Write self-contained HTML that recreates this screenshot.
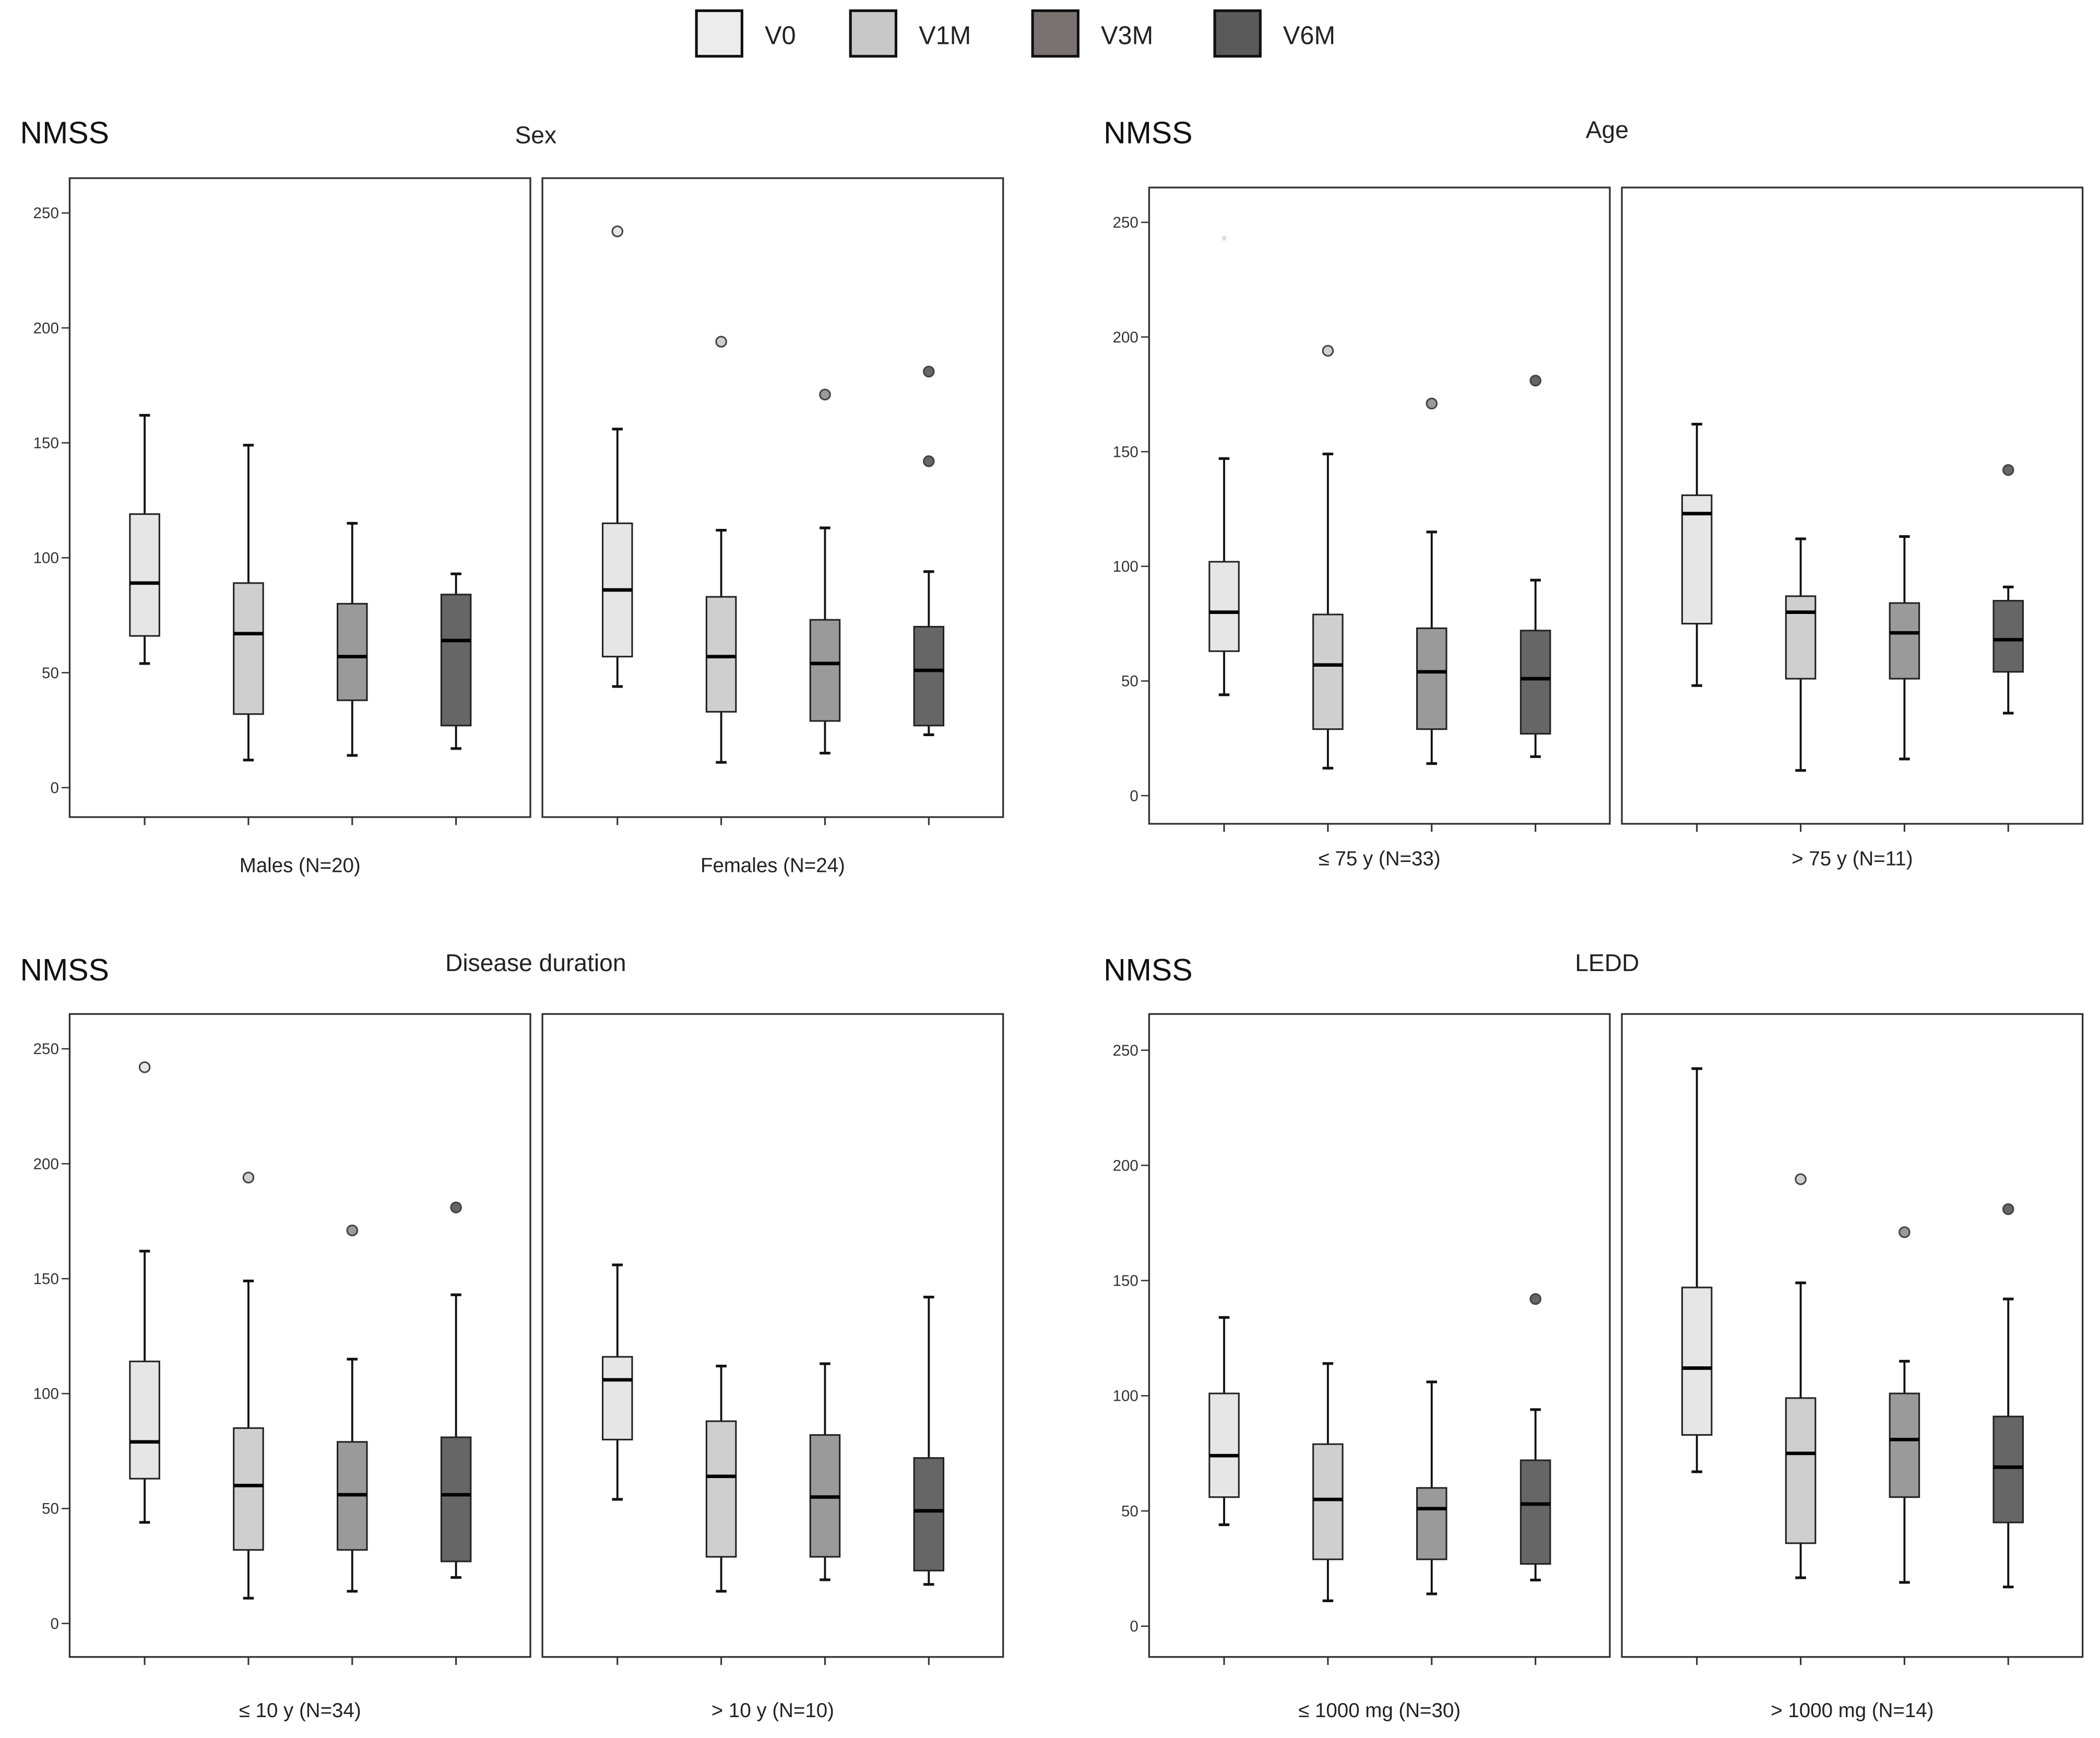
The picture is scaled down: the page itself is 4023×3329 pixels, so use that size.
<!DOCTYPE html>
<html><head><meta charset="utf-8"><style>
html,body{margin:0;padding:0;background:#fff;}
svg{display:block;font-family:"Liberation Sans",sans-serif;}
</style></head><body>
<svg id="chart" width="4023" height="3329" viewBox="0 0 1568 1297.5" xmlns="http://www.w3.org/2000/svg">
<rect x="0" y="0" width="1568" height="1297.5" fill="#fff"/>
<g id="legend"></g>
<g id="panels"></g>
</svg>
<script>
const series = ["V0","V1M","V3M","V6M"];
const fills = ["#e6e6e6","#cfcfcf","#9a9a9a","#666666"];
const legendFills = ["#ececec","#c8c8c8","#7a7270","#5a5a5a"];
const yTicks = [0,50,100,150,200,250];
// each box: [low whisker, q1, median, q3, high whisker]
const sexMales = [[54,66,89,119,162],[12,32,67,89,149],[14,38,57,80,115],[17,27,64,84,93]];
const sexMalesOut = [[],[],[],[]];
const sexFemales = [[44,57,86,115,156],[11,33,57,83,112],[15,29,54,73,113],[23,27,51,70,94]];
const sexFemalesOut = [[242],[194],[171],[181,142]];
const ageLow = [[44,63,80,102,147],[12,29,57,79,149],[14,29,54,73,115],[17,27,51,72,94]];
const ageLowOut = [[],[194],[171],[181]];
const ageLowStar = [242];
const ageHigh = [[48,75,123,131,162],[11,51,80,87,112],[16,51,71,84,113],[36,54,68,85,91]];
const ageHighOut = [[],[],[],[142]];
const durLow = [[44,63,79,114,162],[11,32,60,85,149],[14,32,56,79,115],[20,27,56,81,143]];
const durLowOut = [[242],[194],[171],[181]];
const durHigh = [[54,80,106,116,156],[14,29,64,88,112],[19,29,55,82,113],[17,23,49,72,142]];
const durHighOut = [[],[],[],[]];
const leddLow = [[44,56,74,101,134],[11,29,55,79,114],[14,29,51,60,106],[20,27,53,72,94]];
const leddLowOut = [[],[],[],[142]];
const leddHigh = [[67,83,112,147,242],[21,36,75,99,149],[19,56,81,101,115],[17,45,69,91,142]];
const leddHighOut = [[],[194],[171],[181]];

const NS="http://www.w3.org/2000/svg";
function mk(tag, attrs, parent){const e=document.createElementNS(NS,tag);for(const k in attrs)e.setAttribute(k,attrs[k]);parent.appendChild(e);return e;}

// legend
const lg=document.getElementById('legend');
const lgX=[520,635,771,907];
series.forEach((s,i)=>{
  const r=mk('rect',{x:lgX[i],y:8,width:34,height:34,fill:legendFills[i],stroke:'#111','stroke-width':2},lg);
  
  
  const t=mk('text',{x:lgX[i]+51,y:33,'font-size':19,fill:'#222'},lg);
  t.textContent=s;
  
  
});

const panels=[
 {name:'sex',title:'Sex',tx:400,ty:107,nx:15,ny:107,x0:52,top:133,bot:610,y0:588,y250:159,catY:651,
  subs:[{lab:'Males (N=20)',d:sexMales,o:sexMalesOut},{lab:'Females (N=24)',d:sexFemales,o:sexFemalesOut}]},
 {name:'age',title:'Age',tx:1200,ty:103,nx:824,ny:107,x0:858,top:140,bot:615,y0:594,y250:166,catY:646,
  subs:[{lab:'≤ 75 y (N=33)',d:ageLow,o:ageLowOut,star:ageLowStar},{lab:'> 75 y (N=11)',d:ageHigh,o:ageHighOut}]},
 {name:'disease-duration',title:'Disease duration',tx:400,ty:725,nx:15,ny:732,x0:52,top:757,bot:1237,y0:1212,y250:783,catY:1282,
  subs:[{lab:'≤ 10 y (N=34)',d:durLow,o:durLowOut},{lab:'> 10 y (N=10)',d:durHigh,o:durHighOut}]},
 {name:'ledd',title:'LEDD',tx:1200,ty:725,nx:824,ny:732,x0:858,top:757,bot:1237,y0:1214,y250:784,catY:1282,
  subs:[{lab:'≤ 1000 mg (N=30)',d:leddLow,o:leddLowOut},{lab:'> 1000 mg (N=14)',d:leddHigh,o:leddHighOut}]}
];
const root=document.getElementById('panels');
panels.forEach(p=>{
  const g=mk('g',{},root);
  
  
  const y=v=>p.y0+(p.y250-p.y0)*v/250;
  const n=mk('text',{x:p.nx,y:p.ny,'font-size':23,fill:'#111'},g); n.textContent='NMSS';
  
  
  const t=mk('text',{x:p.tx,y:p.ty,'font-size':18,fill:'#222','text-anchor':'middle'},g); t.textContent=p.title;
  
  
  yTicks.forEach(v=>{
    mk('line',{x1:p.x0-6,x2:p.x0,y1:y(v),y2:y(v),stroke:'#333','stroke-width':1},g);
    const tl=mk('text',{x:p.x0-8,y:y(v)+4,'font-size':11.5,fill:'#333','text-anchor':'end'},g); tl.textContent=v;
    
    
  });
  p.subs.forEach((s,si)=>{
    const left=p.x0+si*353, w=344;
    const sg=mk('g',{},g);
    
    
    mk('rect',{x:left,y:p.top,width:w,height:p.bot-p.top,fill:'none',stroke:'#333','stroke-width':1.3},sg);
    const cx=i=>left+56+i*77.5;
    s.d.forEach((b,i)=>{
      const x=cx(i);
      mk('line',{x1:x,x2:x,y1:p.bot,y2:p.bot+6,stroke:'#333','stroke-width':1.2},sg);
      mk('line',{x1:x,x2:x,y1:y(b[0]),y2:y(b[4]),stroke:'#111','stroke-width':1.5},sg);
      mk('line',{x1:x-4,x2:x+4,y1:y(b[0]),y2:y(b[0]),stroke:'#111','stroke-width':2},sg);
      mk('line',{x1:x-4,x2:x+4,y1:y(b[4]),y2:y(b[4]),stroke:'#111','stroke-width':2},sg);
      const r=mk('rect',{x:x-11,y:y(b[3]),width:22,height:y(b[1])-y(b[3]),fill:fills[i],stroke:'#222','stroke-width':1.2},sg);
      
      
      mk('line',{x1:x-11,x2:x+11,y1:y(b[2]),y2:y(b[2]),stroke:'#000','stroke-width':2.6},sg);
      s.o[i].forEach(v=>{
        const c=mk('circle',{cx:x,cy:y(v),r:3.8,fill:fills[i],stroke:'#444','stroke-width':1.2},sg);
        
        
      });
    });
    if(s.star){s.star.forEach(v=>{
      const st=mk('text',{x:cx(0),y:y(v)+4,'font-size':12,fill:'#ccc','text-anchor':'middle'},sg); st.textContent='*';
      
      
    });}
    const cl=mk('text',{x:left+w/2,y:p.catY,'font-size':15,fill:'#222','text-anchor':'middle'},sg); cl.textContent=s.lab;
    
    
  });
});
</script>
</body></html>
